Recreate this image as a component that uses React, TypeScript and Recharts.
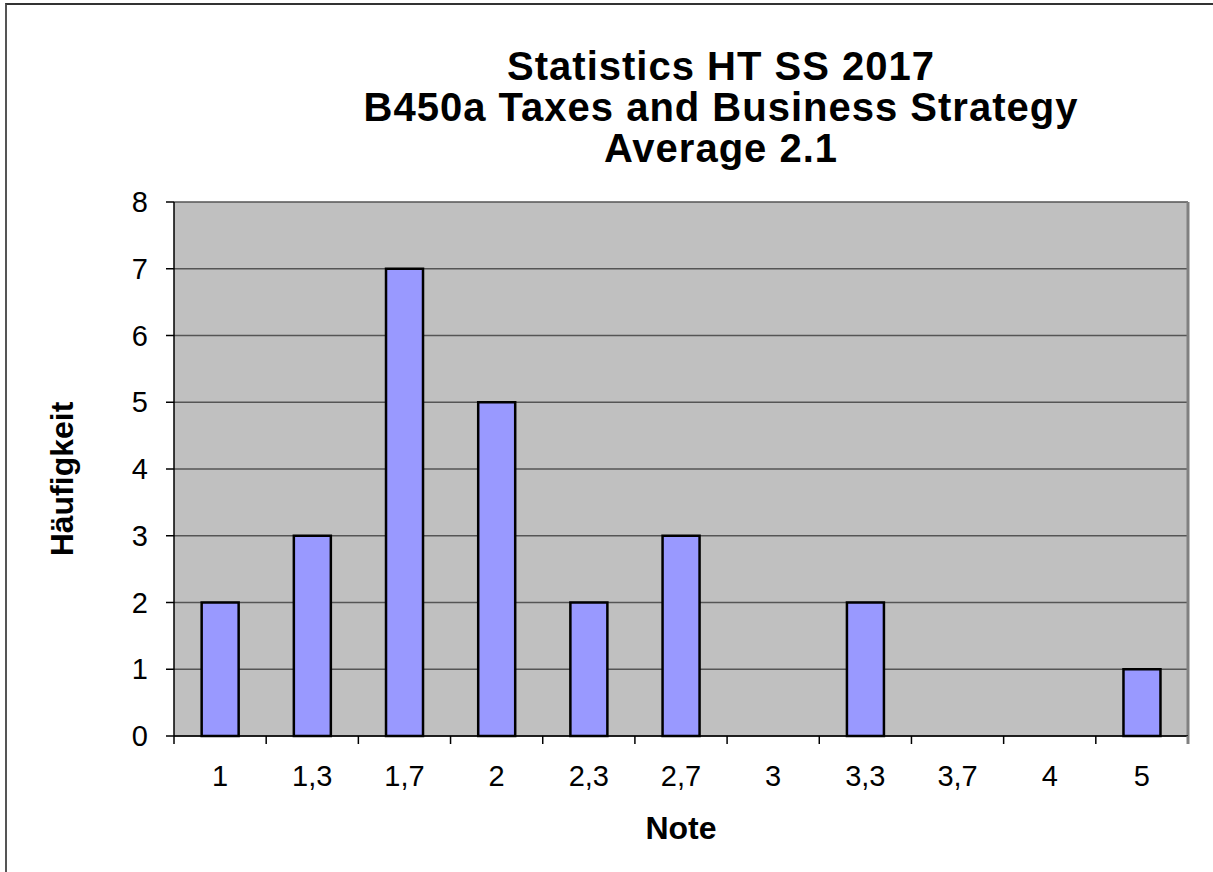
import React from 'react';
import { BarChart, Bar, XAxis, YAxis, CartesianGrid } from 'recharts';

const GRADES = ['1', '1,3', '1,7', '2', '2,3', '2,7', '3', '3,3', '3,7', '4', '5'];
const COUNTS = [2, 3, 7, 5, 2, 3, 0, 2, 0, 0, 1];
const Y_TICKS = [0, 1, 2, 3, 4, 5, 6, 7, 8];
const TITLE_LINES = ['Statistics HT SS 2017', 'B450a Taxes and Business Strategy', 'Average 2.1'];

const W = 1213;
const H = 872;
const X_AXIS_H = 136;
const M = { top: 202, right: 25, bottom: 0, left: 0 };
const Y_AXIS_W = 174;
const PLOT_W = W - M.left - M.right - Y_AXIS_W;
const BAND = PLOT_W / GRADES.length;
const FONT = '"Liberation Sans", Arial, sans-serif';

const data = GRADES.map((g, i) => ({ grade: g, count: COUNTS[i] }));

// category labels plus the little separator ticks between categories (excel style)
const XTick = (props: any) => {
  const { x, y, payload, index } = props;
  const half = BAND / 2;
  const last = index === GRADES.length - 1;
  return (
    <g>
      <line x1={x - half} x2={x - half} y1={y - 8} y2={y} stroke="#000" strokeWidth={1.5} />
      {last && <line x1={x + half} x2={x + half} y1={y - 8} y2={y} stroke="#808080" strokeWidth={3} />}
      <text x={x} y={y + 42} textAnchor="middle" fontSize={29} fontFamily={FONT} fill="#000">
        {payload.value}
      </text>
    </g>
  );
};

const YTick = (props: any) => {
  const { x, y, payload } = props;
  return (
    <text x={x} y={y + 10} textAnchor="end" fontSize={29} fontFamily={FONT} fill="#000">
      {payload.value}
    </text>
  );
};

export default function App() {
  return (
    <div style={{ position: 'absolute', left: 0, top: 0, width: W, height: H, overflow: 'hidden', background: '#fff' }}>
      <div
        style={{
          position: 'absolute',
          left: 5,
          top: 3,
          width: W,
          height: H,
          borderLeft: '2px solid #555',
          borderTop: '2px solid #333',
        }}
      />
      <div style={{ position: 'absolute', left: 0, top: 0 }}>
        <BarChart width={W} height={H} data={data} margin={M} barCategoryGap="30%">
          <CartesianGrid vertical={false} stroke="#555" strokeWidth={1.5} fill="#C0C0C0" fillOpacity={1} />
          <CartesianGrid
            horizontal={false}
            stroke="#808080"
            strokeWidth={3}
            verticalCoordinatesGenerator={({ offset }: any) => [offset.left + offset.width]}
          />
          <XAxis
            dataKey="grade"
            tickLine={false}
            tickSize={8}
            tickMargin={0}
            height={X_AXIS_H}
            axisLine={{ stroke: '#000', strokeWidth: 1.5 }}
            tick={<XTick />}
            interval={0}
            label={{
              content: ({ viewBox }: any) => (
                <text
                  x={viewBox.x + viewBox.width / 2}
                  y={viewBox.y + 103}
                  textAnchor="middle"
                  fontSize={32}
                  fontWeight="bold"
                  fontFamily={FONT}
                  fill="#000"
                >
                  Note
                </text>
              ),
            }}
          />
          <YAxis
            width={Y_AXIS_W}
            domain={[0, 8]}
            ticks={Y_TICKS}
            interval={0}
            tickSize={8}
            tickMargin={18}
            axisLine={{ stroke: '#000', strokeWidth: 1.5 }}
            tickLine={{ stroke: '#000', strokeWidth: 1.5 }}
            tick={<YTick />}
            label={{
              content: ({ viewBox }: any) => {
                const cx = viewBox.x + 73;
                const cy = viewBox.y + viewBox.height / 2 + 10;
                return (
                  <text
                    x={cx}
                    y={cy}
                    transform={`rotate(-90, ${cx}, ${cy})`}
                    textAnchor="middle"
                    fontSize={32}
                    fontWeight="bold"
                    fontFamily={FONT}
                    fill="#000"
                  >
                    Häufigkeit
                  </text>
                );
              },
            }}
          />
          <Bar dataKey="count" fill="#9999FF" stroke="#000" strokeWidth={2.5} isAnimationActive={false} />
        </BarChart>
      </div>
      {TITLE_LINES.map((t, i) => (
        <div
          key={t}
          style={{
            position: 'absolute',
            left: 0,
            width: 1442,
            top: 46 + i * 41,
            height: 40,
            textAlign: 'center',
            fontFamily: FONT,
            fontWeight: 'bold',
            fontSize: 40,
            letterSpacing: 1,
            lineHeight: '40px',
            color: '#000',
            whiteSpace: 'nowrap',
          }}
        >
          {t}
        </div>
      ))}
    </div>
  );
}
